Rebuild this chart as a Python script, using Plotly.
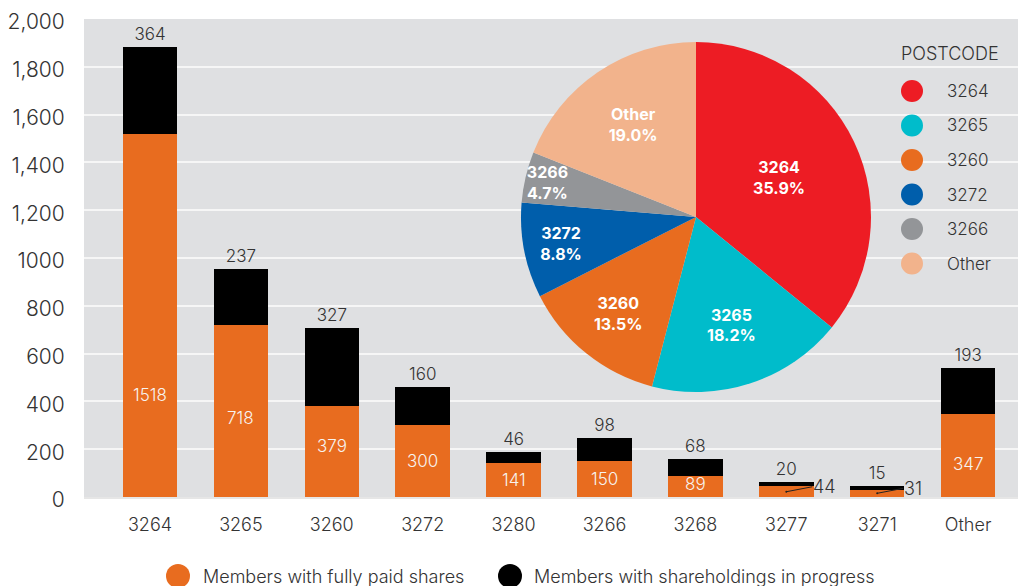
import plotly.graph_objects as go

# ---------------- data ----------------
postcodes = ["3264", "3265", "3260", "3272", "3280", "3266", "3268", "3277", "3271", "Other"]
fully_paid = [1518, 718, 379, 300, 141, 150, 89, 44, 31, 347]
in_progress = [364, 237, 327, 160, 46, 98, 68, 20, 15, 193]

pie_labels = ["3264", "3265", "3260", "3272", "3266", "Other"]
pie_share = [35.9, 18.2, 13.5, 8.8, 4.7, 19.0]

y_tickvals = [0, 200, 400, 600, 800, 1000, 1200, 1400, 1600, 1800, 2000]
y_ticktext = ["0", "200", "400", "600", "800", "1000", "1,200", "1,400", "1,600", "1,800", "2,000"]

# ---------------- styles ----------------
ORANGE = "#e86c1f"
BLACK = "#000000"
BG = "#dfe0e2"
TXT = "#333333"
FONT = "Inter, Lato, sans-serif"
pie_colors = ["#ed1c24", "#00bccb", "#e86c1f", "#005eab", "#939598", "#f2b38c"]
inner_label_frac = [0.28, 0.46, 0.56, 0.5, 0.5, 0.5, 0.6, None, None, 0.4]

# the page body adds an 8px margin; the figure is sized so it ends at the window edge
OFF = 8
W, H = 1026 - OFF, 586 - OFF
PLOT_L, PLOT_R, PLOT_T, PLOT_B = 84, 1026, 19, 497  # screen pixels of the plot area
ML, MR, MT, MB = PLOT_L - OFF, 1026 - PLOT_R, PLOT_T - OFF, 586 - PLOT_B
PW, PH = PLOT_R - PLOT_L, PLOT_B - PLOT_T


def px(x):
    return (x - PLOT_L) / PW


def py(y):
    return (PLOT_B - y) / PH


fig = go.Figure()

fig.add_trace(go.Bar(
    x=postcodes, y=fully_paid, name="Members with fully paid shares",
    marker=dict(color=ORANGE, line=dict(width=0)), width=0.6,
    showlegend=False, hoverinfo="x+y",
))
fig.add_trace(go.Bar(
    x=postcodes, y=in_progress, name="Members with shareholdings in progress",
    marker=dict(color=BLACK, line=dict(width=0)), width=0.6,
    text=[str(v) for v in in_progress], textposition="outside",
    textfont=dict(color=TXT, size=17, family=FONT, weight=300), cliponaxis=False,
    showlegend=False, hoverinfo="x+y",
))

annotations = []
for i, v in enumerate(fully_paid):
    frac = inner_label_frac[i]
    if frac is not None:
        annotations.append(dict(
            x=i, y=v * frac, xref="x", yref="y", text=str(v), showarrow=False,
            yanchor="middle", font=dict(color="#f7f3ef", size=17, family=FONT, weight=300),
        ))
    else:
        annotations.append(dict(
            x=i, y=v / 2, xref="x", yref="y", text=str(v), showarrow=True,
            arrowhead=6, arrowsize=0.5, arrowwidth=1, arrowcolor="#222",
            ax=26, ay=-5, xanchor="left", yanchor="middle", borderpad=0,
            font=dict(color=TXT, size=18, family=FONT, weight=300),
        ))

fig.add_trace(go.Pie(
    labels=pie_labels, values=pie_share, sort=False, direction="clockwise",
    rotation=0, marker=dict(colors=pie_colors, line=dict(width=0)),
    texttemplate="<b>%{label}<br>%{value:.1f}%</b>", textposition="inside",
    insidetextorientation="horizontal",
    textfont=dict(color="white", size=16, family=FONT),
    domain=dict(x=[px(521), px(871)], y=[py(392), py(42)]),
    showlegend=False, hoverinfo="label+value",
))

shapes = []
# pie legend
annotations.append(dict(x=px(899), y=py(53), xref="paper", yref="paper", text="POSTCODE",
                        showarrow=False, xanchor="left", yanchor="middle",
                        font=dict(color=TXT, size=18, family=FONT, weight=300)))
leg_y = [91, 125.5, 160, 194.5, 229, 263.5]
for lab, col, yy in zip(pie_labels, pie_colors, leg_y):
    shapes.append(dict(type="circle", xref="paper", yref="paper", xsizemode="pixel", ysizemode="pixel",
                       xanchor=px(912), yanchor=py(yy), x0=-11, x1=11, y0=-11, y1=11,
                       fillcolor=col, line=dict(width=0)))
    annotations.append(dict(x=px(945), y=py(yy), xref="paper", yref="paper", text=lab,
                            showarrow=False, xanchor="left", yanchor="middle",
                            font=dict(color=TXT, size=17, family=FONT, weight=300)))

# bottom legend
for xc, col, xt, txt in [(178, ORANGE, 201, "Members with fully paid shares"),
                         (510, BLACK, 532, "Members with shareholdings in progress")]:
    shapes.append(dict(type="circle", xref="paper", yref="paper", xsizemode="pixel", ysizemode="pixel",
                       xanchor=px(xc), yanchor=py(576), x0=-12, x1=12, y0=-12, y1=12,
                       fillcolor=col, line=dict(width=0)))
    annotations.append(dict(x=px(xt), y=py(576), xref="paper", yref="paper", text=txt,
                            showarrow=False, xanchor="left", yanchor="middle",
                            font=dict(color=TXT, size=18, family=FONT, weight=300)))

fig.update_layout(
    width=W, height=H, margin=dict(l=ML, r=MR, t=MT, b=MB),
    paper_bgcolor="white", plot_bgcolor=BG, barmode="stack",
    font=dict(family=FONT, color=TXT),
    uniformtext=dict(minsize=16, mode="show"),
    annotations=annotations, shapes=shapes, showlegend=False,
    xaxis=dict(type="category", range=[-0.726, 9.637], showgrid=False, zeroline=False, showline=True,
               linecolor="#e6e6e6", linewidth=2, ticks="outside", ticklen=10,
               tickcolor="rgba(0,0,0,0)", automargin=False,
               tickfont=dict(size=18, color=TXT, family=FONT, weight=300)),
    yaxis=dict(range=[0, 2000], tickvals=y_tickvals, ticktext=y_ticktext,
               showgrid=True, gridcolor="#f6f6f6", gridwidth=2, zeroline=False,
               ticks="outside", ticklen=14, tickcolor="rgba(0,0,0,0)", automargin=False,
               ticklabeloverflow="allow", ticklabelshift=3,
               tickfont=dict(size=21, color=TXT, family=FONT, weight=300)),
)

fig.write_html("out.html")
